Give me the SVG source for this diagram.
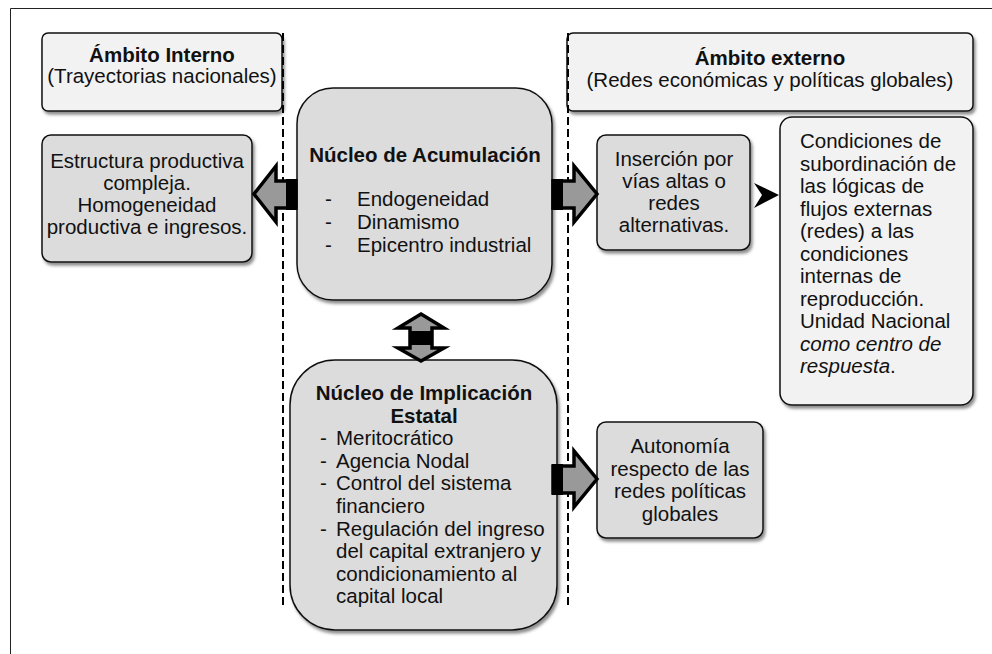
<svg xmlns="http://www.w3.org/2000/svg" width="992" height="654" viewBox="0 0 992 654">
<style>
text{font-family:"Liberation Sans",Arial,sans-serif;font-size:20.5px;fill:#111}
.b{font-weight:bold}
.c{text-anchor:middle}
.light{fill:#f2f2f2;stroke:#111;stroke-width:1.5}
.dark{fill:#dcdcdc;stroke:#111;stroke-width:1.5}
.dash{stroke:#000;stroke-width:2;stroke-dasharray:8,4;fill:none}
.arr{fill:#999;stroke:#000;stroke-width:3.5;stroke-linejoin:miter}
</style>
<defs>
<filter id="sh" x="-10%" y="-10%" width="130%" height="130%">
<feDropShadow dx="2" dy="3" stdDeviation="1.5" flood-color="#444" flood-opacity="0.6"/>
</filter>
</defs>
<rect width="992" height="654" fill="#fff"/>
<path d="M10.5,654 V8.5 H992" fill="none" stroke="#222" stroke-width="1"/>

<g id="ambito-interno">
<rect class="light" x="42" y="33" width="240" height="78" rx="6" filter="url(#sh)"/>
<text class="b c" x="162" y="62">Ámbito Interno</text>
<text class="c" x="162" y="83">(Trayectorias nacionales)</text>
</g>
<g id="ambito-externo">
<rect class="light" x="567" y="33" width="406" height="78" rx="6" filter="url(#sh)"/>
<text class="b c" x="770" y="65">Ámbito externo</text>
<text class="c" x="770" y="87">(Redes económicas y políticas globales)</text>
</g>

<g id="dividers">
<line class="dash" x1="283" y1="33" x2="283" y2="605"/>
<line class="dash" x1="568" y1="33" x2="568" y2="605"/>
</g>

<g id="estructura">
<rect class="dark" x="42" y="135" width="210" height="127" rx="9" filter="url(#sh)"/>
<text class="c" x="147" y="168">Estructura productiva</text>
<text class="c" x="147" y="190">compleja.</text>
<text class="c" x="147" y="212">Homogeneidad</text>
<text class="c" x="147" y="234">productiva e ingresos.</text>
</g>

<g id="nucleo-acumulacion">
<rect class="dark" x="297" y="88" width="255" height="212" rx="36" filter="url(#sh)"/>
<text class="b c" x="425" y="162">Núcleo de Acumulación</text>
<text x="325" y="206">-</text><text x="357" y="206">Endogeneidad</text>
<text x="325" y="229">-</text><text x="357" y="229">Dinamismo</text>
<text x="325" y="252">-</text><text x="357" y="252">Epicentro industrial</text>
</g>

<g id="insercion">
<rect class="dark" x="597" y="135" width="153" height="115" rx="9" filter="url(#sh)"/>
<text class="c" x="674" y="166">Inserción por</text>
<text class="c" x="674" y="188">vías altas o</text>
<text class="c" x="674" y="210">redes</text>
<text class="c" x="674" y="232">alternativas.</text>
</g>

<g id="condiciones">
<rect class="light" x="780" y="117" width="193" height="288" rx="12" filter="url(#sh)"/>
<text x="800" y="148">Condiciones de</text>
<text x="800" y="170.5">subordinación de</text>
<text x="800" y="193">las lógicas de</text>
<text x="800" y="215.5">flujos externas</text>
<text x="800" y="238">(redes) a las</text>
<text x="800" y="260.5">condiciones</text>
<text x="800" y="283">internas de</text>
<text x="800" y="305.5">reproducción.</text>
<text x="800" y="328">Unidad Nacional</text>
<text x="800" y="350.5" font-style="italic">como centro de</text>
<text x="800" y="373"><tspan font-style="italic">respuesta</tspan>.</text>
</g>

<g id="nucleo-implicacion">
<rect class="dark" x="290" y="360" width="267" height="270" rx="45" filter="url(#sh)"/>
<text class="b c" x="424" y="400">Núcleo de Implicación</text>
<text class="b c" x="424" y="422.6">Estatal</text>
<text x="320" y="445.2">-</text><text x="336" y="445.2">Meritocrático</text>
<text x="320" y="467.8">-</text><text x="336" y="467.8">Agencia Nodal</text>
<text x="320" y="490.4">-</text><text x="336" y="490.4">Control del sistema</text>
<text x="336" y="513">financiero</text>
<text x="320" y="535.6">-</text><text x="336" y="535.6">Regulación del ingreso</text>
<text x="336" y="558.2">del capital extranjero y</text>
<text x="336" y="580.8">condicionamiento al</text>
<text x="336" y="603.4">capital local</text>
</g>

<g id="autonomia">
<rect class="dark" x="597" y="422" width="166" height="116" rx="9" filter="url(#sh)"/>
<text class="c" x="680" y="453">Autonomía</text>
<text class="c" x="680" y="475.5">respecto de las</text>
<text class="c" x="680" y="498">redes políticas</text>
<text class="c" x="680" y="520.5">globales</text>
</g>

<g id="connectors">
<polygon class="arr" points="296,181 276,181 276,166 254,194 276,222 276,208 296,208"/>
<rect x="286" y="179" width="11" height="31" fill="#000"/>
<polygon class="arr" points="553,181 574,181 574,166 597,194 574,222 574,208 553,208"/>
<rect x="552" y="179" width="11" height="31" fill="#000"/>
<polygon class="arr" points="553,466 574,466 574,451 597,479 574,507 574,493 553,493"/>
<rect x="552" y="464" width="11" height="31" fill="#000"/>
<polygon class="arr" points="421,314 444,328 432,328 432,348 444,348 421,361 398,348 410,348 410,328 398,328"/>
<rect x="410" y="331" width="22" height="14" fill="#000"/>
<path d="M754,183 L779,195 L754,208 L762,195 Z" fill="#000"/>
</g>
</svg>
